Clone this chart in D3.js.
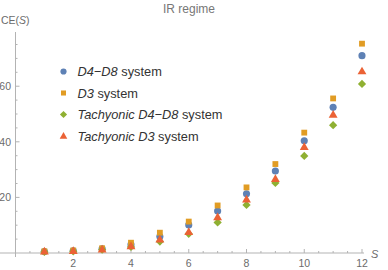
<!DOCTYPE html>
<html>
<head>
<meta charset="utf-8">
<script src="https://cdn.jsdelivr.net/npm/d3@7"></script>
<style>
  body { margin: 0; background: #fff; }
  svg { display: block; font-family: "Liberation Sans", Arial, sans-serif; }
</style>
</head>
<body>
<svg id="chart" width="388" height="270"></svg>
<script>
  // data
  var sValues = [1, 2, 3, 4, 5, 6, 7, 8, 9, 10, 11, 12];
  var d4d8 = [0.5, 0.8, 1.5, 3.0, 5.9, 10.1, 15.1, 21.3, 29.5, 40.4, 52.4, 71.0];
  var d3sys = [0.6, 0.9, 1.7, 3.7, 7.3, 11.3, 17.1, 23.6, 32.0, 43.3, 55.6, 75.3];
  var tachD4D8 = [0.4, 0.6, 1.2, 2.2, 4.1, 6.9, 11.0, 17.3, 25.2, 34.9, 46.0, 60.8];
  var tachD3 = [0.4, 0.6, 1.1, 2.3, 4.7, 7.4, 12.7, 19.1, 26.5, 38.0, 49.6, 65.2];
  var xTicks = [2, 4, 6, 8, 10, 12];
  var yTicks = [20, 40, 60];

  var series = [
    { name: "d4d8", values: d4d8, color: "#5e81b5", shape: d3.symbolCircle, size: 40, rot: 0, label: [["D4\u2212D8", true], [" system", false]] },
    { name: "d3", values: d3sys, color: "#e19c24", shape: d3.symbolSquare, size: 34, rot: 0, label: [["D3", true], [" system", false]] },
    { name: "tachD4D8", values: tachD4D8, color: "#8fb032", shape: d3.symbolSquare, size: 34, rot: 45, label: [["Tachyonic D4\u2212D8", true], [" system", false]] },
    { name: "tachD3", values: tachD3, color: "#eb6235", shape: d3.symbolTriangle, size: 34, rot: 0, label: [["Tachyonic D3", true], [" system", false]] }
  ];

  var svg = d3.select("#chart");
  var textCol = "#6b6b6b", axisCol = "#b3b3b3";

  var x = d3.scaleLinear().domain([0, 12]).range([15.5, 362]);
  var y = d3.scaleLinear().domain([0, 79.5]).range([253, 32]);

  // axes lines
  svg.append("line").attr("x1", 0).attr("x2", 364).attr("y1", y(0)).attr("y2", y(0))
    .attr("stroke", axisCol).attr("stroke-width", 1);
  svg.append("line").attr("x1", x(0)).attr("x2", x(0)).attr("y1", 257).attr("y2", y(79.5))
    .attr("stroke", axisCol).attr("stroke-width", 1);

  // x ticks
  var xMinor = d3.range(0.5, 12.01, 0.5);
  svg.selectAll(".xt").data(xMinor).enter().append("line")
    .attr("x1", function(d){ return x(d); }).attr("x2", function(d){ return x(d); })
    .attr("y1", y(0)).attr("y2", function(d){ return y(0) - (d % 2 === 0 ? 4 : 2); })
    .attr("stroke", axisCol);
  svg.selectAll(".xl").data(xTicks).enter().append("text")
    .attr("x", function(d){ return x(d); }).attr("y", 267)
    .attr("text-anchor", "middle").attr("font-size", 10.5).attr("fill", textCol)
    .text(function(d){ return d; });

  // y ticks
  var yMinor = d3.range(5, 79, 5);
  svg.selectAll(".yt").data(yMinor).enter().append("line")
    .attr("y1", function(d){ return y(d); }).attr("y2", function(d){ return y(d); })
    .attr("x1", x(0)).attr("x2", function(d){ return x(0) + (d % 20 === 0 ? 4 : 2); })
    .attr("stroke", axisCol);
  svg.selectAll(".yl").data(yTicks).enter().append("text")
    .attr("x", 11).attr("y", function(d){ return y(d) + 4; })
    .attr("text-anchor", "end").attr("font-size", 10.5).attr("fill", textCol)
    .text(function(d){ return d; });

  // axis labels and title
  var ce = svg.append("text").attr("x", 1).attr("y", 24).attr("font-size", 10.5).attr("fill", textCol);
  ce.append("tspan").text("CE(");
  ce.append("tspan").attr("font-style", "italic").text("S");
  ce.append("tspan").text(")");
  svg.append("text").attr("x", 371).attr("y", 258).attr("font-size", 11).attr("font-style", "italic")
    .attr("fill", textCol).text("S");
  svg.append("text").attr("x", 189).attr("y", 13).attr("text-anchor", "middle")
    .attr("font-size", 12).attr("fill", "#777").text("IR regime");

  // points
  series.forEach(function(s){
    svg.append("g").selectAll("path").data(s.values).enter().append("path")
      .attr("d", d3.symbol().type(s.shape).size(s.size))
      .attr("transform", function(d, i){
        return "translate(" + x(sValues[i]) + "," + y(d) + ") rotate(" + s.rot + ")";
      })
      .attr("fill", s.color);
  });

  // legend
  var legY = [71.5, 93, 114.5, 136.5];
  series.forEach(function(s, i){
    svg.append("path")
      .attr("d", d3.symbol().type(s.shape).size(s.size * 0.75))
      .attr("transform", "translate(63.5," + legY[i] + ") rotate(" + s.rot + ")")
      .attr("fill", s.color);
    var t = svg.append("text").attr("x", 77.5).attr("y", legY[i] + 4.5)
      .attr("font-size", 12.8).attr("fill", "#333");
    s.label.forEach(function(p){
      t.append("tspan").attr("font-style", p[1] ? "italic" : "normal").text(p[0]);
    });
  });
</script>
</body>
</html>
